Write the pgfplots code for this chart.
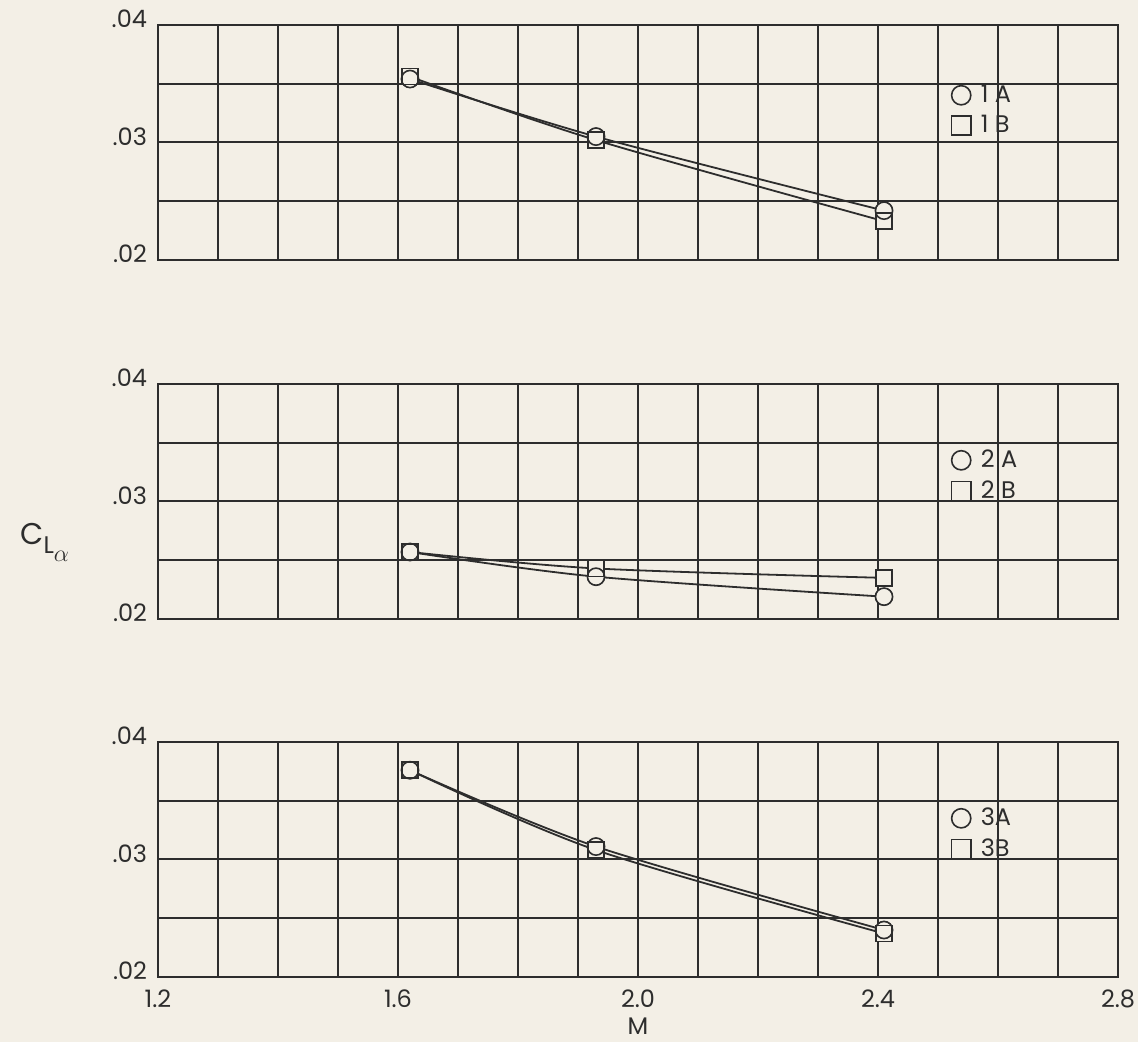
\documentclass[border=0pt]{standalone}
\usepackage{pgfplots}
\usepackage{pgfplotstable}
\pgfplotsset{compat=1.18}
\usepackage{fontspec}
\setmainfont{Poppins}
\definecolor{paper}{RGB}{243,239,230}
\definecolor{ink}{RGB}{45,45,45}

\pgfplotstableread{
M A B
1.62 0.0354 0.0356
1.93 0.0305 0.0302
2.41 0.0242 0.0233
}\panelone
\pgfplotstableread{
M A B
1.62 0.0257 0.0257
1.93 0.0236 0.0243
2.41 0.0219 0.0235
}\paneltwo
\pgfplotstableread{
M A B
1.62 0.0376 0.0376
1.93 0.0311 0.0308
2.41 0.0240 0.0237
}\panelthree

\pgfplotsset{
  panel/.style={
    scale only axis, width=480pt, height=117.5pt,
    xmin=1.2, xmax=2.8, ymin=0.02, ymax=0.04,
    scaled y ticks=false, scaled x ticks=false,
    xtick={1.2,1.3,1.4,1.5,1.6,1.7,1.8,1.9,2.0,2.1,2.2,2.3,2.4,2.5,2.6,2.7,2.8},
    xticklabels={},
    ytick={0.02,0.025,0.03,0.035,0.04},
    yticklabels={.02,,.03,,.04},
    grid=major,
    major grid style={ink, line width=1pt},
    axis line style={ink, line width=1pt},
    major tick length=0pt,
    tick label style={font=\fontsize{12}{14}\selectfont, text=ink},
    yticklabel style={yshift=3pt, xshift=-2pt},
    legend style={draw=none, fill=none, font=\fontsize{12}{14}\selectfont, text=ink,
      anchor=north west, row sep=1pt},
    legend cell align=left,
    legend image post style={mark size=4.8pt},
  },
  curve/.style={ink, line width=0.9pt, smooth, no markers, forget plot},
  cfill/.style={only marks, mark=*, mark size=4.3pt, mark options={fill=paper, draw=none}, forget plot},
  sfill/.style={only marks, mark=square*, mark size=4pt, mark options={fill=paper, draw=none}, forget plot},
  cmark/.style={only marks, mark=o, mark size=4.3pt, mark options={draw=ink, line width=0.8pt}},
  smark/.style={only marks, mark=square, mark size=4pt, mark options={draw=ink, line width=0.8pt}},
}

\newcommand{\panelplots}[1]{%
  \addplot[curve] table[x=M,y=A]{#1};
  \addplot[curve] table[x=M,y=B]{#1};
  \addplot[cfill] table[x=M,y=A]{#1};
  \addplot[sfill] table[x=M,y=B]{#1};
  \addplot[cmark] table[x=M,y=A]{#1};
  \addplot[smark] table[x=M,y=B]{#1};
}

\begin{document}
\begin{tikzpicture}
\path[use as bounding box, fill=paper] (0,0) rectangle (569pt,521pt);

\begin{axis}[panel, at={(79pt,391pt)}, anchor=south west,
  legend style={at={(0.82,0.78)}}]
\panelplots{\panelone}
\legend{\hspace{3pt}1 A, \hspace{3pt}1 B}
\end{axis}

\begin{axis}[panel, at={(79pt,211.5pt)}, anchor=south west,
  legend style={at={(0.82,0.755)}}]
\panelplots{\paneltwo}
\legend{\hspace{3pt}2 A, \hspace{3pt}2 B}
\end{axis}

\begin{axis}[panel, at={(79pt,32.5pt)}, anchor=south west,
  legend style={at={(0.82,0.755)}},
  xticklabels={1.2,,,,1.6,,,,2.0,,,,2.4,,,,2.8},
  xticklabel style={yshift=-3pt},
  xlabel={M}, xlabel style={font=\fontsize{12}{14}\selectfont, text=ink, yshift=2pt}]
\panelplots{\panelthree}
\legend{\hspace{3pt}3A, \hspace{3pt}3B}
\end{axis}

\node[anchor=west, text=ink, font=\fontsize{15}{17}\selectfont, inner sep=0pt] at (10pt,250pt)
  {C\raisebox{-0.6ex}{\fontsize{12}{14}\selectfont L\raisebox{-0.55ex}{\fontsize{12}{14}\selectfont$\alpha$}}};
\end{tikzpicture}
\end{document}
